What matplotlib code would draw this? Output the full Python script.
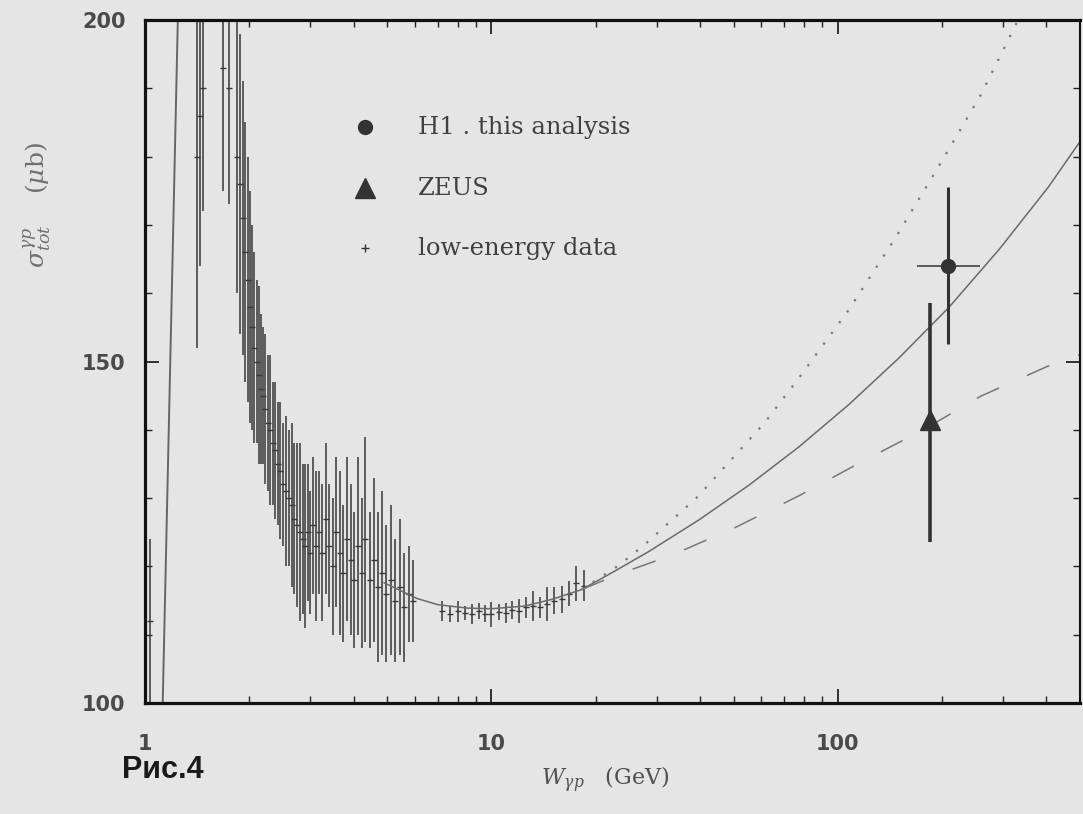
import matplotlib.pyplot as plt
from matplotlib.ticker import FixedLocator, NullFormatter

plt.rcParams['mathtext.fontset'] = 'dejavuserif'

bg = '#e5e5e5'
ink = '#383838'

# low-energy photoproduction data: W (GeV), sigma (mub), error
low_w = [1.034, 1.41, 1.44, 1.47, 1.68, 1.75, 1.84, 1.88, 1.92, 1.95,
         1.98, 2.01, 2.04, 2.07, 2.10, 2.13, 2.16, 2.19, 2.22, 2.26,
         2.30, 2.34, 2.38, 2.42, 2.46, 2.50, 2.55, 2.60, 2.65, 2.70,
         2.75, 2.80, 2.85, 2.90, 2.95, 3.00, 3.06, 3.12, 3.18, 3.25,
         3.32, 3.40, 3.48, 3.56, 3.65, 3.74, 3.83, 3.92, 4.02, 4.12,
         4.22, 4.33, 4.45, 4.57, 4.70, 4.83, 4.97, 5.12, 5.27, 5.43,
         5.60, 5.78, 5.95,
         7.2, 7.6, 8.0, 8.4, 8.8, 9.2, 9.6, 10.0, 10.5, 11.0,
         11.5, 12.0, 12.6, 13.2, 13.8, 14.5, 15.2, 16.0, 16.8, 17.6, 18.5]
low_sig = [112, 180, 186, 190, 193, 190, 180, 176, 171, 166,
           162, 158, 155, 152, 150, 148, 146, 145, 143, 141,
           140, 138, 137, 135, 134, 132, 131, 130, 129, 127,
           126, 125, 124, 123, 125, 122, 126, 123, 125, 122,
           127, 123, 120, 125, 122, 119, 124, 121, 118, 123,
           119, 124, 118, 121, 117, 119, 116, 118, 115, 117,
           114, 116, 115,
           113.5, 113.0, 113.4, 113.2, 113.0, 113.5, 113.1, 113.0, 113.3, 113.2,
           113.6, 113.5, 114.0, 114.2, 114.0, 114.5, 115.0, 115.2, 116.0, 117.5, 117.2]
low_err = [12, 28, 22, 18, 18, 17, 20, 22, 20, 19,
           18, 17, 15, 14, 12, 13, 11, 10, 11, 10,
           11, 9, 10, 9, 10, 9, 11, 10, 12, 11,
           12, 13, 11, 12, 10, 9, 10, 11, 9, 10,
           11, 9, 10, 11, 12, 10, 12, 11, 10, 13,
           11, 15, 10, 12, 11, 12, 10, 11, 9, 10,
           8, 7, 6,
           1.5, 1.2, 1.5, 1.0, 1.5, 1.2, 1.3, 1.8, 1.2, 1.5,
           1.3, 1.8, 1.5, 2.2, 1.5, 2.5, 2.0, 2.0, 1.8, 2.5, 2.2]

# steep resonance-region rise
rise_w = [1.125, 1.245]
rise_sig = [100, 201]

# H1 and ZEUS points
h1_w = [208]
h1_sig = [164]
h1_err = [11.5]
h1_werr_lo = [39]
h1_werr_hi = [50]
zeus_w = [185]
zeus_sig = [141.5]
zeus_err_lo = [18]
zeus_err_hi = [17]

# model curves
fit_w = [4.9, 6.1, 7.0, 8.5, 10.0, 12.5, 15.0, 18.2, 22.5, 28.5, 39.7,
         55.4, 77.2, 107.6, 150, 209, 292, 406, 500]
fit_sig = [117.6, 115.3, 114.4, 113.9, 113.8, 114.2, 115.2, 116.6, 119.2,
           122.2, 126.8, 131.9, 137.5, 143.7, 150.5, 157.9, 166.4, 175.6, 182.2]
dot_w = [18.2, 23.4, 27.7, 39.4, 61.6, 76.7, 106.6, 145, 194, 257, 309, 335]
dot_sig = [116.6, 120.2, 123.2, 130.2, 141.1, 147.4, 157.3, 167.7, 178.3,
           188.8, 196.9, 200.5]
dash_w = [18.2, 23.4, 33, 50.6, 78.3, 116, 178, 258, 403, 500]
dash_sig = [116.6, 118.9, 121.6, 125.7, 130.5, 135.2, 140.1, 144.9, 149.3, 151]

fig = plt.figure(figsize=(10.83, 8.14), dpi=100, facecolor=bg)
ax = fig.add_axes([145 / 1083, 1 - 703 / 814, 935 / 1083, 683 / 814])
ax.set_facecolor(bg)
ax.set_xscale('log')
ax.set_xlim(1, 500)
ax.set_ylim(100, 200)

ax.errorbar(low_w, low_sig, yerr=low_err, fmt='none', ecolor=ink,
            elinewidth=1.3, alpha=0.85)
ax.plot(low_w, low_sig, '_', color=ink, ms=4)
ax.plot(rise_w, rise_sig, color='#666666', lw=1.4)

ax.plot(fit_w, fit_sig, color='#6a6a6a', lw=1.1)
ax.plot(dot_w, dot_sig, color='#777777', lw=1.6, ls=(0, (1, 5)))
ax.plot(dash_w, dash_sig, color='#777777', lw=1.1, ls=(0, (16, 20)))

ax.errorbar(h1_w, h1_sig, xerr=[h1_werr_lo, h1_werr_hi], fmt='none',
            ecolor='#333333', elinewidth=1.1, capsize=0)
ax.errorbar(h1_w, h1_sig, yerr=h1_err, fmt='o', color='#333333', ms=10,
            elinewidth=2.2, capsize=0)
ax.errorbar(zeus_w, zeus_sig, yerr=[zeus_err_lo, zeus_err_hi], fmt='^',
            color='#333333', ms=14, elinewidth=2.6, capsize=0)

# hand-made legend
leg_y = [0.843, 0.754, 0.666]
leg_marker = ['o', '^', '+']
leg_size = [10, 14, 6]
leg_text = ['H1 . this analysis', 'ZEUS', 'low-energy data']
for yy, mk, sz, txt in zip(leg_y, leg_marker, leg_size, leg_text):
    ax.plot([0.235], [yy], mk, color='#333333', ms=sz, transform=ax.transAxes)
    ax.text(0.292, yy, txt, transform=ax.transAxes, va='center', ha='left',
            family='DejaVu Serif', fontsize=17.5, color='#404040')

for s in ax.spines.values():
    s.set_linewidth(2.3)
    s.set_color('#111111')
ax.spines['right'].set_linewidth(1.5)

ax.xaxis.set_major_locator(FixedLocator([1, 10, 100]))
ax.xaxis.set_minor_locator(FixedLocator([2, 3, 4, 5, 6, 7, 8, 9, 20, 30, 40,
                                          50, 60, 70, 80, 90, 200, 300, 400]))
ax.xaxis.set_minor_formatter(NullFormatter())
ax.set_xticklabels(['1', '10', '100'])
ax.yaxis.set_major_locator(FixedLocator([100, 150, 200]))
ax.yaxis.set_minor_locator(FixedLocator([110, 120, 130, 140, 160, 170, 180, 190]))
ax.set_yticklabels(['100', '150', '200'])
ax.tick_params(which='both', direction='in', top=True, right=True,
               color='#222222')
ax.tick_params(which='major', length=10, width=1.3)
ax.tick_params(which='minor', length=5, width=1.0)
ax.tick_params(axis='x', which='major', pad=22)
ax.tick_params(axis='y', which='major', pad=14)
for lab in ax.get_xticklabels() + ax.get_yticklabels():
    lab.set_family('DejaVu Sans')
    lab.set_fontweight('bold')
    lab.set_fontsize(15)
    lab.set_color('#4a4a4a')

fig.text(605 / 1083, 1 - 780 / 814, r'$W_{\gamma p}$   (GeV)', ha='center',
         va='center', family='DejaVu Serif', fontsize=16, color='#505050')
fig.text(37 / 1083, 1 - 205 / 814, r'$\sigma^{\gamma p}_{tot}$    ($\mu$b)',
         rotation=90, ha='center', va='center', family='DejaVu Serif',
         fontsize=18, color='#707070')
fig.text(122 / 1083, 1 - 770 / 814, 'Рис.4', ha='left', va='center',
         family='Liberation Sans', fontweight='bold', fontsize=22,
         color='#1a1a1a')

fig.savefig('out.png', dpi=100, facecolor=bg)
